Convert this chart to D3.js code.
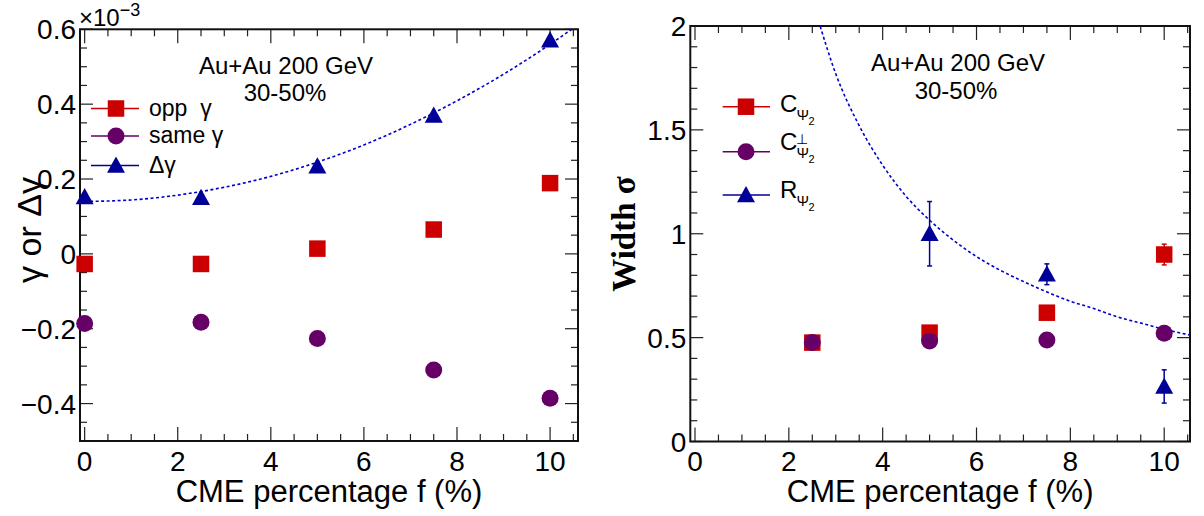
<!DOCTYPE html>
<html><head><meta charset="utf-8">
<script src="https://cdn.jsdelivr.net/npm/d3@7/dist/d3.min.js"></script>
<style>
html,body{margin:0;padding:0;background:#fff;}
text{font-family:"Liberation Sans",Arial,Helvetica,sans-serif;fill:#000;}
</style></head>
<body>
<svg id="c" width="1204" height="516"></svg>
<script>
// ---------- data ----------
const xTicks = [0, 2, 4, 6, 8, 10];
const xTickLabels = ["0", "2", "4", "6", "8", "10"];
const leftYTicks = [-0.4, -0.2, 0, 0.2, 0.4, 0.6];
const leftYLabels = ["\u22120.4", "\u22120.2", "0", "0.2", "0.4", "0.6"];
const rightYTicks = [0, 0.5, 1, 1.5, 2];
const rightYLabels = ["0", "0.5", "1", "1.5", "2"];

const fPct = [0, 2.5, 5, 7.5, 10];
const oppGamma = [-0.027, -0.027, 0.014, 0.065, 0.189];
const sameGamma = [-0.186, -0.183, -0.226, -0.310, -0.386];
const deltaGamma = [0.152, 0.150, 0.234, 0.370, 0.571];
const fitLeftX = [0, 1, 2, 3, 4, 5, 6, 7, 8, 9, 10, 10.6];
const fitLeftY = [0.140, 0.144, 0.157, 0.178, 0.207, 0.245, 0.291, 0.346, 0.409, 0.480, 0.560, 0.612];

const fRight = [2.5, 5, 7.5, 10];
const cPsi = [0.476, 0.524, 0.620, 0.900];
const cPsiErr = [0, 0, 0, 0.05];
const cPerp = [0.476, 0.484, 0.489, 0.521];
const fR = [5, 7.5, 10];
const rPsi = [1.0, 0.805, 0.265];
const rPsiErr = [0.155, 0.05, 0.08];
const fitRightX = [2.6, 3, 3.5, 4, 4.5, 5, 5.5, 6, 6.5, 7, 7.5, 8, 8.5, 9, 9.5, 10, 10.6];
const fitRightY = [2.05, 1.77, 1.52, 1.33, 1.18, 1.065, 0.97, 0.89, 0.825, 0.77, 0.72, 0.675, 0.64, 0.60, 0.57, 0.54, 0.51];

const RED = "#cc0000", PURPLE = "#660066", BLUE = "#000099", FITBLUE = "#0000cc";

const svg = d3.select("#c");

function panel(opts) {
  const g = svg.append("g");
  const x = d3.scaleLinear().domain(opts.xDomain).range(opts.xRange);
  const y = d3.scaleLinear().domain(opts.yDomain).range(opts.yRange);
  const [x0, x1] = opts.xRange, [y0, y1] = [opts.yRange[1], opts.yRange[0]];
  const clipId = opts.id + "clip";
  svg.append("clipPath").attr("id", clipId).append("rect")
    .attr("x", x0).attr("y", y0).attr("width", x1 - x0).attr("height", y1 - y0);

  // ticks
  const tk = g.append("g").attr("stroke", "#222").attr("stroke-width", 1.2);
  const xMinor = d3.range(0, opts.xDomain[1] + 1e-9, 0.5);
  xMinor.forEach(v => {
    const major = Math.abs(v / 2 - Math.round(v / 2)) < 1e-6;
    const L = major ? 14 : 7;
    tk.append("line").attr("x1", x(v)).attr("x2", x(v)).attr("y1", y1).attr("y2", y1 - L);
    tk.append("line").attr("x1", x(v)).attr("x2", x(v)).attr("y1", y0).attr("y2", y0 + L);
  });
  const yMinor = d3.range(opts.yDomain[0], opts.yDomain[1] + 1e-9, opts.yMinorStep);
  yMinor.forEach(v => {
    const major = opts.yTicks.some(t => Math.abs(t - v) < 1e-6);
    const L = major ? 13 : 7;
    tk.append("line").attr("x1", x0).attr("x2", x0 + L).attr("y1", y(v)).attr("y2", y(v));
    tk.append("line").attr("x1", x1).attr("x2", x1 - L).attr("y1", y(v)).attr("y2", y(v));
  });
  // frame
  g.append("rect").attr("x", x0).attr("y", y0).attr("width", x1 - x0).attr("height", y1 - y0)
    .attr("fill", "none").attr("stroke", "#111").attr("stroke-width", 2);

  // tick labels
  xTicks.forEach((v, i) => {
    g.append("text").attr("x", x(v)).attr("y", 471).attr("text-anchor", "middle")
      .attr("font-size", 28).text(xTickLabels[i]);
  });
  opts.yTicks.forEach((v, i) => {
    g.append("text").attr("x", x0 - 4).attr("y", y(v)).attr("dy", "0.36em").attr("text-anchor", "end")
      .attr("font-size", 28).text(opts.yLabels[i]);
  });
  // x title
  g.append("text").attr("x", (x0 + x1) / 2).attr("y", 502).attr("text-anchor", "middle")
    .attr("font-size", 31).text("CME percentage f (%)");
  return {g, x, y, clipId};
}

function square(g, cx, cy, color, s = 16.5) {
  g.append("rect").attr("x", cx - s / 2).attr("y", cy - s / 2).attr("width", s).attr("height", s).attr("fill", color);
}
function circle(g, cx, cy, color, r = 8.5) {
  g.append("circle").attr("cx", cx).attr("cy", cy).attr("r", r).attr("fill", color);
}
function triangle(g, cx, cy, color, w = 18) {
  const h = w * 0.9;
  g.append("path").attr("d", `M${cx},${cy - h * 0.55}L${cx + w / 2},${cy + h * 0.45}L${cx - w / 2},${cy + h * 0.45}Z`).attr("fill", color);
}

// ---------- left panel ----------
const L = panel({id: "L", xDomain: [-0.1, 10.6], xRange: [80, 578], yDomain: [-0.5, 0.6], yRange: [441, 29.3],
  yTicks: leftYTicks, yLabels: leftYLabels, yMinorStep: 0.05});

// exponent label
const ex = L.g.append("text").attr("x", 79).attr("y", 26).attr("font-size", 24);
ex.append("tspan").text("\u00d710");
ex.append("tspan").attr("font-size", 18).attr("dy", -10).text("\u22123");

// y title
L.g.append("text").attr("transform", "translate(41,230) rotate(-90)").attr("text-anchor", "middle")
  .attr("font-size", 34).text("\u03b3 or \u0394\u03b3");

// fit curve
L.g.append("path").datum(fitLeftX.map((v, i) => [v, fitLeftY[i]]))
  .attr("clip-path", `url(#${L.clipId})`)
  .attr("d", d3.line().x(d => L.x(d[0])).y(d => L.y(d[1])).curve(d3.curveMonotoneX))
  .attr("fill", "none").attr("stroke", FITBLUE).attr("stroke-width", 1.6).attr("stroke-dasharray", "3,2.5");

fPct.forEach((f, i) => square(L.g, L.x(f), L.y(oppGamma[i]), RED));
fPct.forEach((f, i) => circle(L.g, L.x(f), L.y(sameGamma[i]), PURPLE));
fPct.forEach((f, i) => triangle(L.g, L.x(f), L.y(deltaGamma[i]), BLUE));

// annotation
L.g.append("text").attr("x", 286).attr("y", 74).attr("text-anchor", "middle").attr("font-size", 24).text("Au+Au 200 GeV");
L.g.append("text").attr("x", 285).attr("y", 101).attr("text-anchor", "middle").attr("font-size", 24).text("30-50%");

// legend
const legL = [
  {c: RED, m: "sq", t: "opp\u00a0\u00a0\u03b3", y: 108.5},
  {c: PURPLE, m: "ci", t: "same \u03b3", y: 136},
  {c: BLUE, m: "tr", t: "\u0394\u03b3", y: 165.5},
];
legL.forEach(d => {
  L.g.append("line").attr("x1", 91).attr("x2", 139).attr("y1", d.y).attr("y2", d.y).attr("stroke", d.c).attr("stroke-width", 1.5);
  if (d.m === "sq") square(L.g, 116, d.y, d.c);
  if (d.m === "ci") circle(L.g, 116, d.y, d.c);
  if (d.m === "tr") triangle(L.g, 116, d.y, d.c);
  L.g.append("text").attr("x", 149).attr("y", d.y + 7).attr("font-size", 23).text(d.t);
});

// ---------- right panel ----------
const R = panel({id: "R", xDomain: [-0.1, 10.55], xRange: [690.3, 1190], yDomain: [0, 2], yRange: [441.5, 26],
  yTicks: rightYTicks, yLabels: rightYLabels, yMinorStep: 0.1});

R.g.append("text").attr("transform", "translate(635,234) rotate(-90)").attr("text-anchor", "middle")
  .attr("font-size", 33).attr("font-weight", "bold").style("font-family", "'Liberation Serif','Times New Roman',serif")
  .text("Width \u03c3");

R.g.append("path").datum(fitRightX.map((v, i) => [v, fitRightY[i]]))
  .attr("clip-path", `url(#${R.clipId})`)
  .attr("d", d3.line().x(d => R.x(d[0])).y(d => R.y(d[1])).curve(d3.curveMonotoneX))
  .attr("fill", "none").attr("stroke", FITBLUE).attr("stroke-width", 1.6).attr("stroke-dasharray", "3,2.5");

function errbar(g, cx, yTop, yBot, color) {
  g.append("line").attr("x1", cx).attr("x2", cx).attr("y1", yTop).attr("y2", yBot).attr("stroke", color).attr("stroke-width", 1.5);
  [yTop, yBot].forEach(yy => g.append("line").attr("x1", cx - 2.5).attr("x2", cx + 2.5).attr("y1", yy).attr("y2", yy)
    .attr("stroke", color).attr("stroke-width", 1.5));
}

fRight.forEach((f, i) => {
  if (cPsiErr[i] > 0) errbar(R.g, R.x(f), R.y(cPsi[i] + cPsiErr[i]), R.y(cPsi[i] - cPsiErr[i]), RED);
  square(R.g, R.x(f), R.y(cPsi[i]), RED);
});
fRight.forEach((f, i) => circle(R.g, R.x(f), R.y(cPerp[i]), PURPLE));
fR.forEach((f, i) => {
  errbar(R.g, R.x(f), R.y(rPsi[i] + rPsiErr[i]), R.y(rPsi[i] - rPsiErr[i]), BLUE);
  triangle(R.g, R.x(f), R.y(rPsi[i]), BLUE);
});

R.g.append("text").attr("x", 958).attr("y", 71).attr("text-anchor", "middle").attr("font-size", 24).text("Au+Au 200 GeV");
R.g.append("text").attr("x", 956).attr("y", 99).attr("text-anchor", "middle").attr("font-size", 24).text("30-50%");

const legR = [
  {c: RED, m: "sq", main: "C", sup: "", y: 106.7, base: 112},
  {c: PURPLE, m: "ci", main: "C", sup: "\u22a5", y: 151.7, base: 150},
  {c: BLUE, m: "tr", main: "R", sup: "", y: 195, base: 198},
];
legR.forEach(d => {
  R.g.append("line").attr("x1", 722.7).attr("x2", 770).attr("y1", d.y).attr("y2", d.y).attr("stroke", d.c).attr("stroke-width", 1.5);
  if (d.m === "sq") square(R.g, 746, d.y, d.c);
  if (d.m === "ci") circle(R.g, 746, d.y, d.c);
  if (d.m === "tr") triangle(R.g, 746, d.y, d.c);
  const mainW = 16.5;
  const t = R.g.append("text").attr("x", 780).attr("y", d.base).attr("font-size", 24);
  t.append("tspan").text(d.main);
  if (d.sup) t.append("tspan").attr("x", 780 + mainW - 1).attr("y", d.base - 6).attr("font-size", 14).text(d.sup);
  t.append("tspan").attr("x", 780 + mainW).attr("y", d.base + 8).attr("font-size", 15).text("\u03a8");
  t.append("tspan").attr("x", 780 + mainW + 12).attr("y", d.base + 13).attr("font-size", 11).text("2");
});
</script>
</body></html>
